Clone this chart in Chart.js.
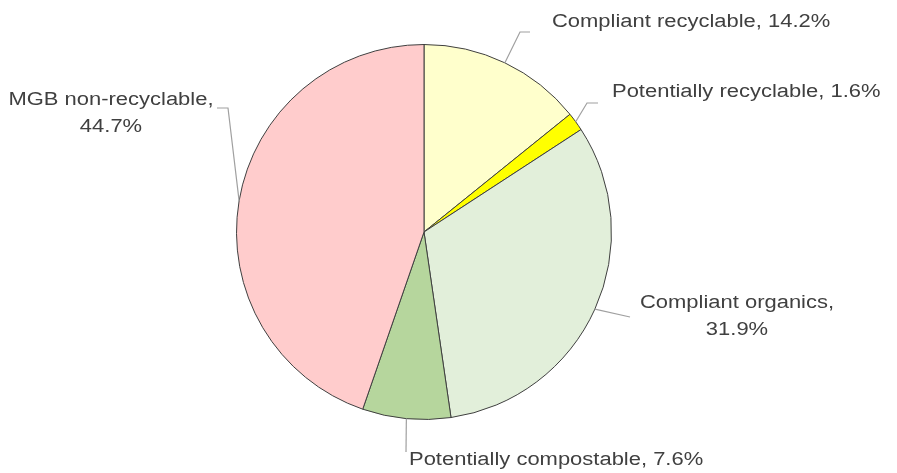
<!DOCTYPE html>
<html>
<head>
<meta charset="utf-8">
<script src="https://cdn.jsdelivr.net/npm/chart.js@4/dist/chart.umd.min.js"></script>
<style>
html,body{margin:0;padding:0;background:#fff;}
#wrap{width:897px;height:473px;position:relative;}
</style>
</head>
<body>
<div id="wrap"><canvas id="c" width="897" height="473"></canvas></div>
<script>
const categories = ['Compliant recyclable', 'Potentially recyclable', 'Compliant organics', 'Potentially compostable', 'MGB non-recyclable'];
const values = [14.2, 1.6, 31.9, 7.6, 44.7];
const valueLabels = ['14.2%', '1.6%', '31.9%', '7.6%', '44.7%'];
const sliceColors = ['#FFFFCC', '#FFFF00', '#E2EFDA', '#B6D69D', '#FFCCCC'];

// label layout: text lines, anchor (relative to pie centre), alignment, leader elbow/end (relative to centre)
const labelLayout = [
  {lines: [categories[0] + ', ' + valueLabels[0]], tx: 128, ty: -210, align: 'left', elbow: [96, -200], end: [106, -200]},
  {lines: [categories[1] + ', ' + valueLabels[1]], tx: 188, ty: -140, align: 'left', elbow: [163, -129], end: [174, -129]},
  {lines: [categories[2] + ',', valueLabels[2]], tx: 313, ty: 71, align: 'center', elbow: null, end: [206, 85]},
  {lines: [categories[3] + ', ' + valueLabels[3]], tx: -15, ty: 228, align: 'left', elbow: null, end: [-18, 220]},
  {lines: [categories[4] + ',', valueLabels[4]], tx: -313, ty: -132, align: 'center', elbow: [-196, -124], end: [-207, -124]}
];
const textStretch = 1.22;

const leaderPlugin = {
  id: 'leaders',
  afterDatasetsDraw(chart) {
    const ctx = chart.ctx;
    const meta = chart.getDatasetMeta(0);
    ctx.save();
    meta.data.forEach((arc, i) => {
      const p = arc.getProps(['x', 'y', 'startAngle', 'endAngle', 'outerRadius'], true);
      const mid = (p.startAngle + p.endAngle) / 2;
      const sx = p.x + Math.cos(mid) * p.outerRadius;
      const sy = p.y + Math.sin(mid) * p.outerRadius;
      const L = labelLayout[i];
      ctx.strokeStyle = '#A0A0A0';
      ctx.lineWidth = 1.2;
      ctx.beginPath();
      ctx.moveTo(sx, sy);
      if (L.elbow) ctx.lineTo(p.x + L.elbow[0], p.y + L.elbow[1]);
      ctx.lineTo(p.x + L.end[0], p.y + L.end[1]);
      ctx.stroke();
      ctx.fillStyle = '#404040';
      ctx.font = '18px "Liberation Sans", Arial, sans-serif';
      ctx.textAlign = L.align;
      ctx.textBaseline = 'middle';
      L.lines.forEach((t, k) => {
        ctx.save();
        ctx.translate(p.x + L.tx, p.y + L.ty + k * 27.5);
        ctx.scale(textStretch, 1);
        ctx.fillText(t, 0, 0);
        ctx.restore();
      });
    });
    ctx.restore();
  }
};

new Chart(document.getElementById('c'), {
  type: 'pie',
  data: {
    labels: categories,
    datasets: [{
      data: values,
      backgroundColor: sliceColors,
      borderColor: '#3F3F3F',
      borderWidth: 1
    }]
  },
  options: {
    responsive: false,
    animation: false,
    layout: {padding: {top: 44, bottom: 53, left: 0, right: 49}},
    plugins: {legend: {display: false}, tooltip: {enabled: false}}
  },
  plugins: [leaderPlugin]
});
</script>
</body>
</html>
